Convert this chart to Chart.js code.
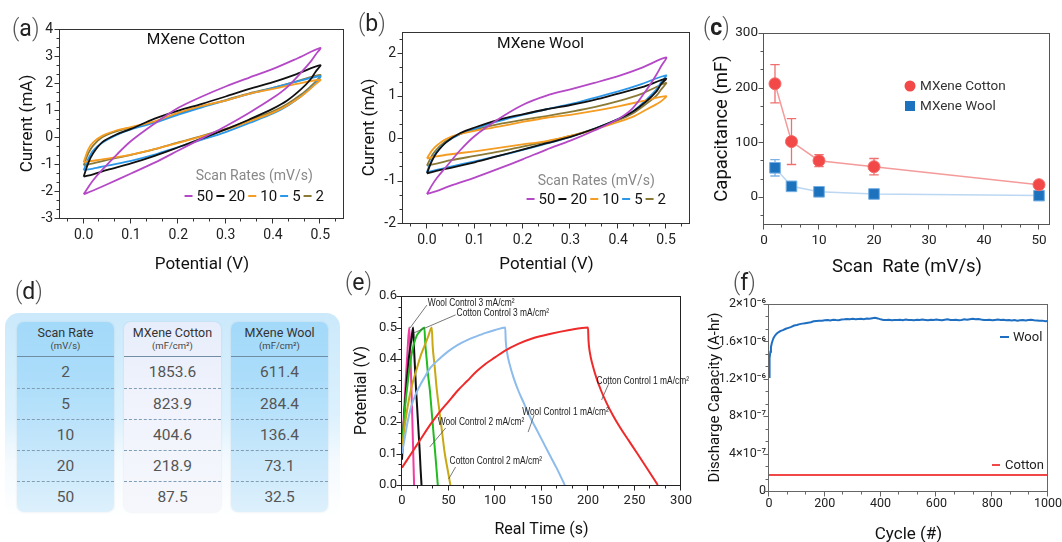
<!DOCTYPE html>
<html><head><meta charset="utf-8">
<script src="https://cdn.jsdelivr.net/npm/chart.js@4.4.1/dist/chart.umd.min.js"></script>
<style>
html,body{margin:0;padding:0;background:#fff;width:1062px;height:542px;overflow:hidden;position:relative;font-family:Roboto,'Liberation Sans',sans-serif;}
canvas{position:absolute;}
.plab{position:absolute;font-size:23px;line-height:23px;color:#222;white-space:nowrap;}
.plab .p{color:#555;font-weight:300;}
#tblwrap{position:absolute;left:5px;top:313px;width:335px;height:205px;border-radius:14px;background:linear-gradient(180deg,#cbe9fb 0%,#dcf1fd 50%,#f4fafe 72%,#ffffff 100%);}
.card{position:absolute;top:9px;width:97px;height:190px;border-radius:7px;overflow:hidden;box-shadow:0 0 2px rgba(110,150,180,0.25);}
.card.blue{background:linear-gradient(180deg,#a3d9f9 0%,#abddfa 30%,#c4e6fb 65%,#ddf0fc 100%);}
.card.white{background:linear-gradient(180deg,#e7edfb 0%,#f0f3fc 40%,#f5f7fc 100%);}
.hd{height:34px;border-bottom:1px solid #6f8da3;text-align:center;color:#333;}
.h1{font-size:12.5px;padding-top:3px;line-height:15px;}
.h2{font-size:9.5px;line-height:12px;color:#444;}
.row{height:30px;line-height:30px;text-align:center;font-size:15.5px;color:#555;border-top:1px dashed #7f9db3;}
.row:first-child{height:31px;line-height:31px;border-top:none;}
</style></head><body>

<canvas id="ca" style="left:0px;top:0px" width="345" height="275"></canvas>
<canvas id="cb" style="left:350px;top:0px" width="342" height="275"></canvas>
<canvas id="cc" style="left:692px;top:0px" width="370" height="278"></canvas>
<canvas id="ce" style="left:345px;top:278px" width="355" height="264"></canvas>
<canvas id="cf" style="left:692px;top:278px" width="380" height="270"></canvas>

<div id="tblwrap">
  <div class="card blue" style="left:12px"><div class="hd"><div class="h1">Scan Rate</div><div class="h2">(mV/s)</div></div><div id="col1"></div></div>
  <div class="card white" style="left:119px"><div class="hd"><div class="h1">MXene Cotton</div><div class="h2">(mF/cm²)</div></div><div id="col2"></div></div>
  <div class="card blue" style="left:226px"><div class="hd"><div class="h1">MXene Wool</div><div class="h2">(mF/cm²)</div></div><div id="col3"></div></div>
</div>

<div class="plab" style="left:12px;top:17px"><span class="p">(</span>a<span class="p">)</span></div>
<div class="plab" style="left:358px;top:12px"><span class="p">(</span>b<span class="p">)</span></div>
<div class="plab" style="left:703px;top:16px"><span class="p">(</span><b>c</b><span class="p">)</span></div>
<div class="plab" style="left:15px;top:280px"><span class="p">(</span>d<span class="p">)</span></div>
<div class="plab" style="left:345px;top:271px"><span class="p">(</span>e<span class="p">)</span></div>
<div class="plab" style="left:733px;top:271px"><span class="p">(</span>f<span class="p">)</span></div>

<script>
// ---------------- DATA ----------------
// (a),(b) cyclic voltammetry: forward and reverse potential grids (V)
const potForward = [0, 0.01, 0.02, 0.04, 0.07, 0.1, 0.15, 0.2, 0.25, 0.3, 0.35, 0.4, 0.45, 0.5];
const potReverse = [0.49, 0.48, 0.46, 0.43, 0.4, 0.35, 0.3, 0.25, 0.2, 0.15, 0.1, 0.05, 0.02, 0];
const scanRateLabels = ['50', '20', '10', '5', '2'];

// MXene Cotton currents (mA)
const cottonFwd50 = [-2.12,-1.85,-1.6,-1.2,-0.65,-0.15,0.5,1.08,1.5,1.87,2.2,2.52,2.9,3.3];
const cottonRev50 = [3.05,2.8,2.4,1.85,1.45,0.9,0.4,-0.05,-0.5,-0.95,-1.35,-1.75,-1.98,-2.12];
const cottonFwd20 = [-1.47,-0.95,-0.6,-0.18,0.1,0.3,0.68,0.98,1.23,1.5,1.78,2.03,2.33,2.66];
const cottonRev20 = [2.42,2.15,1.78,1.35,1.05,0.65,0.28,-0.05,-0.38,-0.7,-0.98,-1.22,-1.38,-1.47];
const cottonFwd10 = [-0.93,-0.45,-0.2,0.05,0.25,0.37,0.58,0.9,1.15,1.35,1.6,1.78,1.97,2.12];
const cottonRev10 = [1.96,1.8,1.51,1.17,0.9,0.58,0.27,0.02,-0.22,-0.45,-0.65,-0.8,-0.88,-0.93];
const cottonFwd5 = [-1.23,-0.8,-0.5,-0.2,0.08,0.28,0.53,0.83,1.1,1.35,1.6,1.82,2.05,2.25];
const cottonRev5 = [2.0,1.82,1.52,1.15,0.87,0.52,0.18,-0.1,-0.37,-0.65,-0.88,-1.06,-1.17,-1.23];
const cottonFwd2 = [-1.05,-0.6,-0.32,0.0,0.22,0.35,0.56,0.88,1.13,1.37,1.62,1.82,2.06,2.3];
const cottonRev2 = [2.05,1.88,1.58,1.22,0.95,0.62,0.3,0.04,-0.2,-0.45,-0.66,-0.85,-0.98,-1.05];

// MXene Wool currents (mA)
const woolFwd50 = [-1.32,-1.12,-0.95,-0.68,-0.28,0.05,0.45,0.78,1.0,1.15,1.3,1.46,1.66,1.9];
const woolRev50 = [1.7,1.5,1.15,0.7,0.45,0.18,-0.06,-0.27,-0.5,-0.72,-0.93,-1.12,-1.25,-1.32];
const woolFwd20 = [-0.83,-0.55,-0.35,-0.1,0.12,0.25,0.43,0.56,0.68,0.78,0.9,1.05,1.2,1.4];
const woolRev20 = [1.28,1.1,0.88,0.62,0.45,0.22,0.03,-0.12,-0.27,-0.42,-0.57,-0.7,-0.77,-0.83];
const woolFwd10 = [-0.48,-0.3,-0.18,-0.02,0.1,0.17,0.27,0.38,0.48,0.55,0.64,0.75,0.87,0.99];
const woolRev10 = [0.87,0.8,0.68,0.5,0.38,0.2,0.05,-0.07,-0.15,-0.23,-0.31,-0.38,-0.43,-0.48];
const woolFwd5 = [-0.8,-0.52,-0.33,-0.1,0.1,0.22,0.4,0.55,0.68,0.8,0.95,1.1,1.28,1.48];
const woolRev5 = [1.32,1.15,0.92,0.62,0.45,0.22,0.03,-0.13,-0.28,-0.42,-0.55,-0.67,-0.75,-0.8];
const woolFwd2 = [-0.65,-0.42,-0.27,-0.07,0.1,0.2,0.33,0.43,0.52,0.62,0.73,0.87,1.05,1.3];
const woolRev2 = [1.15,1.0,0.82,0.58,0.42,0.22,0.05,-0.08,-0.2,-0.32,-0.42,-0.52,-0.6,-0.65];

const cvPotTicks = [0, 0.1, 0.2, 0.3, 0.4, 0.5];
const cvCottonTicks = [-3, -2, -1, 0, 1, 2, 3, 4];
const cvWoolTicks = [-2, -1, 0, 1, 2];

// (c) capacitance vs scan rate
const capScanRates = [2, 5, 10, 20, 50];
const capCotton = [207, 101, 66, 55, 22];
const capCottonErr = [35, 42, 11, 15, 3];
const capWool = [53, 19, 9, 5, 2];
const capWoolErr = [15, 3, 2, 1, 1];
const capXTicks = [0, 10, 20, 30, 40, 50];
const capYTicks = [0, 100, 200, 300];

// (d) table
const tblScanRate = ['2', '5', '10', '20', '50'];
const tblCotton = ['1853.6', '823.9', '404.6', '218.9', '87.5'];
const tblWool = ['611.4', '284.4', '136.4', '73.1', '32.5'];

// (e) galvanostatic charge/discharge
const gcdWool3T = [0, 2, 4, 6, 7.8, 9, 10, 11, 12, 13];
const gcdWool3V = [0.12, 0.22, 0.33, 0.43, 0.5, 0.42, 0.32, 0.22, 0.11, 0];
const gcdCotton3T = [0, 2, 4, 6, 8, 10, 12, 13, 14, 15, 16, 17, 18, 19, 20, 21];
const gcdCotton3V = [0.08, 0.2, 0.29, 0.36, 0.42, 0.46, 0.5, 0.43, 0.37, 0.31, 0.26, 0.21, 0.16, 0.11, 0.05, 0];
const gcdWool2T = [0, 2, 4, 6, 8, 10, 13, 16, 20, 24, 25, 26.5, 28, 30, 32, 34, 36, 38.5];
const gcdWool2V = [0.12, 0.2, 0.27, 0.32, 0.37, 0.41, 0.45, 0.475, 0.49, 0.5, 0.45, 0.4, 0.35, 0.3, 0.23, 0.16, 0.09, 0];
const gcdCotton2T = [0, 4, 8, 12, 16, 20, 24, 28, 32, 33, 35, 37.5, 40, 43, 46, 49, 52];
const gcdCotton2V = [0.12, 0.21, 0.28, 0.33, 0.37, 0.41, 0.44, 0.47, 0.5, 0.44, 0.38, 0.3, 0.24, 0.17, 0.1, 0.05, 0];
const gcdWool1T = [0, 3, 6, 10, 15, 20, 25, 30, 40, 50, 60, 70, 80, 90, 100, 111, 111.5, 113, 116, 120, 125, 131, 137, 144, 151, 158, 166, 175];
const gcdWool1V = [0.1, 0.15, 0.2, 0.25, 0.29, 0.32, 0.345, 0.37, 0.4, 0.425, 0.445, 0.46, 0.472, 0.483, 0.492, 0.5, 0.46, 0.42, 0.38, 0.34, 0.3, 0.26, 0.22, 0.18, 0.14, 0.1, 0.055, 0];
const gcdCotton1T = [0, 10, 20, 30, 40, 50, 60, 70, 80, 90, 100, 110, 125, 140, 160, 180, 200, 200.5, 202, 205, 209, 214, 220, 227, 235, 244, 253, 263, 275];
const gcdCotton1V = [0.055, 0.1, 0.145, 0.19, 0.23, 0.265, 0.3, 0.33, 0.36, 0.385, 0.405, 0.425, 0.448, 0.465, 0.48, 0.492, 0.5, 0.46, 0.42, 0.38, 0.34, 0.3, 0.26, 0.22, 0.18, 0.14, 0.1, 0.055, 0];
const gcdLabels = ['Wool Control 3 mA/cm²', 'Cotton Control 3 mA/cm²', 'Wool Control 2 mA/cm²', 'Cotton Control 2 mA/cm²', 'Wool Control 1 mA/cm²', 'Cotton Control 1 mA/cm²'];
const gcdXTicks = [0, 50, 100, 150, 200, 250, 300];
const gcdYTicks = [0, 0.1, 0.2, 0.3, 0.4, 0.5, 0.6];

// (f) cycling, discharge capacity in units of 1e-6 A-hr
const cycWoolN = [0,1,2,3,5,7,10,13,16,20,25,30,35,40,50,60,70,80,90,100,110,120,130,140,150,160,170,180,190,200,210,220,230,240,250,260,270,280,290,300,310,320,330,340,350,360,370,380,390,400,410,420,430,440,450,460,470,480,490,500,510,520,530,540,550,560,570,580,590,600,610,620,630,640,650,660,670,680,690,700,710,720,730,740,750,760,770,780,790,800,810,820,830,840,850,860,870,880,890,900,910,920,930,940,950,960,970,980,990,1000];
const cycWoolCap = [1.22,1.30,1.37,1.42,1.49,1.54,1.58,1.61,1.635,1.655,1.675,1.69,1.70,1.71,1.72,1.735,1.745,1.755,1.77,1.775,1.785,1.79,1.795,1.80,1.805,1.815,1.818,1.82,1.822,1.826,1.83,1.824,1.832,1.828,1.826,1.834,1.836,1.84,1.838,1.842,1.838,1.84,1.842,1.838,1.845,1.842,1.848,1.852,1.846,1.836,1.83,1.828,1.832,1.826,1.83,1.828,1.832,1.826,1.834,1.828,1.83,1.826,1.832,1.828,1.834,1.83,1.826,1.832,1.828,1.834,1.83,1.826,1.832,1.836,1.83,1.828,1.832,1.826,1.83,1.836,1.832,1.838,1.842,1.836,1.84,1.834,1.83,1.828,1.832,1.826,1.83,1.834,1.828,1.832,1.826,1.83,1.824,1.828,1.822,1.826,1.83,1.824,1.828,1.832,1.826,1.824,1.82,1.822,1.816,1.818];
const cycCottonN = [0, 250, 500, 750, 1000];
const cycCottonCap = [0.17, 0.17, 0.17, 0.17, 0.17];
const cycXTicks = [0, 200, 400, 600, 800, 1000];
const cycYTicks = [0, 0.4, 0.8, 1.2, 1.6, 2.0];
const cycYTickLabels = ['0', '4×10⁻⁷', '8×10⁻⁷', '1.2×10⁻⁶', '1.6×10⁻⁶', '2×10⁻⁶'];

// ---------------- HELPERS ----------------
Chart.defaults.font.family = "Roboto, 'Liberation Sans', sans-serif";
Chart.defaults.color = '#222';

function linAxis(o) {
  return {
    type: 'linear', min: o.min, max: o.max, position: o.pos,
    afterBuildTicks: s => { s.ticks = o.ticks.map(v => ({value: v})); },
    afterFit: s => { if (o.pos === 'left') s.width = o.size; else s.height = o.size; },
    grid: {display: false, drawTicks: false},
    border: {display: false},
    ticks: {autoSkip: false, maxRotation: 0, padding: o.pad, color: '#222', font: {size: o.tickSize}, callback: o.fmt},
    title: {display: true, text: o.title, color: '#111', padding: 0, font: {size: o.titleSize}}
  };
}

function tickMarks(scale, div) {
  const maj = scale.ticks.map(t => t.value);
  const step = (maj[1] - maj[0]) / div;
  const out = [];
  let v = maj[0];
  while (v - step >= scale.min - 1e-9) v -= step;
  for (; v <= scale.max + 1e-9; v += step) {
    out.push({v, major: maj.some(m => Math.abs(m - v) < step * 0.05)});
  }
  return out;
}

const frameTicks = {
  id: 'frameTicks',
  afterDatasetsDraw(chart, args, o) {
    const {ctx, chartArea: a} = chart;
    const xs = chart.scales.x, ys = chart.scales.y;
    ctx.save();
    ctx.strokeStyle = o.color; ctx.lineWidth = 1;
    const L = Math.round(a.left) - 0.5, R = Math.round(a.right) - 0.5, T = Math.round(a.top) + 0.5, B = Math.round(a.bottom) + 0.5;
    ctx.strokeRect(L, T, R - L, B - T);
    ctx.beginPath();
    tickMarks(xs, 3).forEach(t => {
      const px = Math.round(xs.getPixelForValue(t.v)) - 0.5;
      ctx.moveTo(px, B); ctx.lineTo(px, B + (t.major ? 5 : 3));
    });
    tickMarks(ys, 3).forEach(t => {
      const py = Math.round(ys.getPixelForValue(t.v)) + 0.5;
      ctx.moveTo(L, py); ctx.lineTo(L - (t.major ? 5 : 3), py);
    });
    ctx.stroke();
    ctx.restore();
  }
};

const cvDecor = {
  id: 'cvDecor',
  afterDraw(chart, args, o) {
    const {ctx, chartArea: a} = chart;
    ctx.save();
    ctx.textBaseline = 'middle';
    ctx.fillStyle = '#111'; ctx.font = "15.5px Roboto"; ctx.textAlign = 'center';
    ctx.fillText(o.title, (a.left + a.right) / 2 + o.titleDx, a.top + o.titleDy);
    ctx.font = "15px Roboto";
    const ds = chart.data.datasets;
    const seg = 8, g1 = 4, g2 = 3;
    const widths = ds.map(d => ctx.measureText(d.label).width);
    const total = widths.reduce((s, w) => s + seg + g1 + w + g2, 0) - g2;
    let x = a.right - o.legRight - total;
    const y = a.bottom - o.legBottom;
    ds.forEach((d, i) => {
      ctx.strokeStyle = d.borderColor; ctx.lineWidth = 2;
      ctx.beginPath(); ctx.moveTo(x, y); ctx.lineTo(x + seg, y); ctx.stroke();
      x += seg + g1;
      ctx.textAlign = 'left'; ctx.fillStyle = '#111';
      ctx.fillText(d.label, x, y + 1);
      x += widths[i] + g2;
    });
    ctx.font = "14px Roboto"; ctx.fillStyle = '#888'; ctx.textAlign = 'center';
    ctx.fillText(o.legTitle, a.right - o.legRight - total / 2, y - o.legTitleGap);
    ctx.restore();
  }
};

const errDecor = {
  id: 'errDecor',
  beforeDatasetsDraw(chart, args, o) {
    const {ctx} = chart; const xs = chart.scales.x, ys = chart.scales.y;
    ctx.save();
    chart.data.datasets.forEach((d, i) => {
      const err = o.errors[i];
      ctx.strokeStyle = o.colors[i]; ctx.lineWidth = 1.3;
      ctx.beginPath();
      d.data.forEach((p, j) => {
        const x = xs.getPixelForValue(p.x);
        const y1 = ys.getPixelForValue(p.y + err[j]), y2 = ys.getPixelForValue(p.y - err[j]);
        ctx.moveTo(x, y1); ctx.lineTo(x, y2);
        ctx.moveTo(x - o.cap, y1); ctx.lineTo(x + o.cap, y1);
        ctx.moveTo(x - o.cap, y2); ctx.lineTo(x + o.cap, y2);
      });
      ctx.stroke();
    });
    ctx.restore();
  },
  afterDraw(chart, args, o) {
    const {ctx, chartArea: a} = chart;
    ctx.save();
    ctx.textBaseline = 'middle'; ctx.textAlign = 'left';
    ctx.font = "13.5px Roboto"; ctx.fillStyle = '#333';
    chart.data.datasets.forEach((d, i) => {
      const cx = a.left + o.legX, cy = a.top + o.legY[i];
      ctx.fillStyle = d.pointBackgroundColor;
      if (d.pointStyle === 'circle') { ctx.beginPath(); ctx.arc(cx, cy, 5.5, 0, Math.PI * 2); ctx.fill(); }
      else { ctx.fillRect(cx - 5, cy - 5, 10, 10); }
      ctx.fillStyle = '#333';
      ctx.fillText(d.label, cx + 10, cy + 1);
    });
    ctx.restore();
  }
};

const annotDecor = {
  id: 'annotDecor',
  afterDatasetsDraw(chart, args, o) {
    const {ctx} = chart; const xs = chart.scales.x, ys = chart.scales.y;
    ctx.save();
    ctx.strokeStyle = '#555'; ctx.lineWidth = 0.8;
    o.items.forEach(it => {
      ctx.beginPath();
      ctx.moveTo(xs.getPixelForValue(it.from[0]), ys.getPixelForValue(it.from[1]));
      ctx.lineTo(xs.getPixelForValue(it.to[0]), ys.getPixelForValue(it.to[1]));
      ctx.stroke();
      const tx = xs.getPixelForValue(it.at[0]), ty = ys.getPixelForValue(it.at[1]);
      ctx.save();
      ctx.translate(tx, ty); ctx.scale(0.8, 1);
      ctx.font = "10.5px 'Liberation Sans', Arial, sans-serif"; ctx.fillStyle = '#222';
      ctx.textBaseline = 'middle'; ctx.textAlign = 'left';
      ctx.fillText(it.text, 0, 0);
      ctx.restore();
    });
    ctx.restore();
  }
};

const lineLegend = {
  id: 'lineLegend',
  afterDraw(chart, args, o) {
    const {ctx, chartArea: a} = chart;
    ctx.save();
    ctx.font = "13px Roboto"; ctx.textBaseline = 'middle'; ctx.textAlign = 'left';
    chart.data.datasets.forEach((d, i) => {
      const it = o.items[i];
      const y = a.top + it.dy;
      ctx.strokeStyle = d.borderColor; ctx.lineWidth = 2;
      ctx.beginPath(); ctx.moveTo(a.right + it.x0, y); ctx.lineTo(a.right + it.x1, y); ctx.stroke();
      ctx.fillStyle = '#222';
      ctx.fillText(d.label, a.right + it.tx, y + 1);
    });
    ctx.restore();
  }
};

function loop(fwd, rev) {
  return potForward.map((p, i) => ({x: p, y: fwd[i]})).concat(potReverse.map((p, i) => ({x: p, y: rev[i]})));
}
function pts(xs, ys) { return xs.map((x, i) => ({x, y: ys[i]})); }

const cvColors = ['#B548C6', '#111111', '#F59C22', '#2B97E8', '#8A7A36'];
function cvSets(pairs) {
  return pairs.map((p, i) => ({
    label: scanRateLabels[i], data: loop(p[0], p[1]), showLine: true,
    borderColor: cvColors[i], borderWidth: 1.8, pointRadius: 0, tension: 0.3, fill: false
  }));
}

const baseOpts = {responsive: false, animation: false, devicePixelRatio: 1, events: []};

// ---------------- (a) ----------------
new Chart(document.getElementById('ca'), {
  type: 'scatter',
  data: {datasets: cvSets([[cottonFwd50, cottonRev50], [cottonFwd20, cottonRev20], [cottonFwd10, cottonRev10], [cottonFwd5, cottonRev5], [cottonFwd2, cottonRev2]])},
  options: Object.assign({}, baseOpts, {
    layout: {padding: {left: 18, right: 1, top: 29, bottom: 0}},
    plugins: {legend: {display: false}, tooltip: {enabled: false},
      frameTicks: {color: '#333'},
      cvDecor: {title: 'MXene Cotton', titleDx: -6, titleDy: 11, legTitle: 'Scan Rates (mV/s)', legRight: 20, legBottom: 22, legTitleGap: 20}},
    scales: {
      x: linAxis({pos: 'bottom', min: -0.05, max: 0.55, ticks: cvPotTicks, size: 57, pad: 9, tickSize: 14, fmt: v => v.toFixed(1), title: 'Potential (V)', titleSize: 17}),
      y: linAxis({pos: 'left', min: -3, max: 4, ticks: cvCottonTicks, size: 42, pad: 7, tickSize: 14, fmt: v => String(v), title: 'Current (mA)', titleSize: 17})
    }
  }),
  plugins: [frameTicks, cvDecor]
});

// ---------------- (b) ----------------
new Chart(document.getElementById('cb'), {
  type: 'scatter',
  data: {datasets: cvSets([[woolFwd50, woolRev50], [woolFwd20, woolRev20], [woolFwd10, woolRev10], [woolFwd5, woolRev5], [woolFwd2, woolRev2]])},
  options: Object.assign({}, baseOpts, {
    layout: {padding: {left: 10, right: 2, top: 32, bottom: 0}},
    plugins: {legend: {display: false}, tooltip: {enabled: false},
      frameTicks: {color: '#333'},
      cvDecor: {title: 'MXene Wool', titleDx: -6, titleDy: 12, legTitle: 'Scan Rates (mV/s)', legRight: 24, legBottom: 24, legTitleGap: 18}},
    scales: {
      x: linAxis({pos: 'bottom', min: -0.05, max: 0.55, ticks: cvPotTicks, size: 52, pad: 9, tickSize: 14, fmt: v => v.toFixed(1), title: 'Potential (V)', titleSize: 17}),
      y: linAxis({pos: 'left', min: -2, max: 2.5, ticks: cvWoolTicks, size: 43, pad: 7, tickSize: 14, fmt: v => String(v), title: 'Current (mA)', titleSize: 17})
    }
  }),
  plugins: [frameTicks, cvDecor]
});

// ---------------- (c) ----------------
new Chart(document.getElementById('cc'), {
  type: 'scatter',
  data: {datasets: [
    {label: 'MXene Cotton', data: pts(capScanRates, capCotton), showLine: true, borderColor: '#F59A9A', borderWidth: 1.5,
     pointStyle: 'circle', pointRadius: 6, pointBackgroundColor: '#F24848', pointBorderColor: '#F46A6A', pointBorderWidth: 1, tension: 0},
    {label: 'MXene Wool', data: pts(capScanRates, capWool), showLine: true, borderColor: '#BCD7F2', borderWidth: 1.5,
     pointStyle: 'rect', pointRadius: 7.5, pointBackgroundColor: '#1C72BC', pointBorderColor: '#74AEE3', pointBorderWidth: 1, tension: 0}
  ]},
  options: Object.assign({}, baseOpts, {
    layout: {padding: {left: 19, right: 12, top: 33, bottom: 0}},
    plugins: {legend: {display: false}, tooltip: {enabled: false},
      frameTicks: {color: '#555'},
      errDecor: {errors: [capCottonErr, capWoolErr], colors: ['#EE7070', '#7DB2E6'], cap: 4.7, legX: 146, legY: [53, 73]}},
    scales: {
      x: linAxis({pos: 'bottom', min: 0, max: 52, ticks: capXTicks, size: 54, pad: 9, tickSize: 13.5, fmt: v => String(v), title: 'Scan  Rate (mV/s)', titleSize: 18.5}),
      y: linAxis({pos: 'left', min: -50, max: 300, ticks: capYTicks, size: 53, pad: 6, tickSize: 13.5, fmt: v => String(v), title: 'Capacitance (mF)', titleSize: 18.5})
    }
  }),
  plugins: [frameTicks, errDecor]
});

// ---------------- (e) ----------------
const gcdColors = ['#F23CA2', '#111111', '#22BB22', '#C9A815', '#8DBCEC', '#EE2A2A'];
const gcdSeries = [[gcdWool3T, gcdWool3V], [gcdCotton3T, gcdCotton3V], [gcdWool2T, gcdWool2V], [gcdCotton2T, gcdCotton2V], [gcdWool1T, gcdWool1V], [gcdCotton1T, gcdCotton1V]];
const gcdSets = gcdSeries.map((s, i) => ({
  label: gcdLabels[i], data: pts(s[0], s[1]), showLine: true, borderColor: gcdColors[i], borderWidth: 2,
  pointRadius: 0, cubicInterpolationMode: 'monotone', fill: false
})).reverse();
const gcdAnnot = [
  {text: gcdLabels[0], at: [27.8, 0.578], from: [26.7, 0.571], to: [8.5, 0.498]},
  {text: gcdLabels[1], at: [58.7, 0.546], from: [57.6, 0.54], to: [12.8, 0.483]},
  {text: gcdLabels[2], at: [38.4, 0.2], from: [47, 0.181], to: [29.9, 0.121]},
  {text: gcdLabels[3], at: [51.2, 0.076], from: [57.6, 0.057], to: [50.2, 0.019]},
  {text: gcdLabels[4], at: [129.2, 0.232], from: [142, 0.222], to: [135.6, 0.168]},
  {text: gcdLabels[5], at: [209.2, 0.33], from: [222, 0.32], to: [214.6, 0.27]}
];
new Chart(document.getElementById('ce'), {
  type: 'scatter',
  data: {datasets: gcdSets},
  options: Object.assign({}, baseOpts, {
    layout: {padding: {left: 7, right: 17, top: 18, bottom: 2}},
    plugins: {legend: {display: false}, tooltip: {enabled: false},
      frameTicks: {color: '#222'},
      annotDecor: {items: gcdAnnot}},
    scales: {
      x: linAxis({pos: 'bottom', min: 0, max: 300, ticks: gcdXTicks, size: 55, pad: 8, tickSize: 13, fmt: v => String(v), title: 'Real Time (s)', titleSize: 16}),
      y: linAxis({pos: 'left', min: 0, max: 0.6, ticks: gcdYTicks, size: 50, pad: 5, tickSize: 13, fmt: v => v.toFixed(1), title: 'Potential (V)', titleSize: 16})
    }
  }),
  plugins: [frameTicks, annotDecor]
});

// ---------------- (f) ----------------
new Chart(document.getElementById('cf'), {
  type: 'scatter',
  data: {datasets: [
    {label: 'Wool', data: pts(cycWoolN, cycWoolCap), showLine: true, borderColor: '#1E6EC2', borderWidth: 2, pointRadius: 0, tension: 0, fill: false},
    {label: 'Cotton', data: pts(cycCottonN, cycCottonCap), showLine: true, borderColor: '#F04848', borderWidth: 2, pointRadius: 0, tension: 0, fill: false}
  ]},
  options: Object.assign({}, baseOpts, {
    layout: {padding: {left: 14, right: 24, top: 26, bottom: 3}},
    plugins: {legend: {display: false}, tooltip: {enabled: false},
      frameTicks: {color: '#666'},
      lineLegend: {items: [{dy: 33, x0: -48, x1: -39, tx: -35}, {dy: 161, x0: -56, x1: -48, tx: -43}]}},
    scales: {
      x: linAxis({pos: 'bottom', min: 0, max: 1000, ticks: cycXTicks, size: 54, pad: 5, tickSize: 12.5, fmt: v => String(v), title: 'Cycle (#)', titleSize: 17}),
      y: linAxis({pos: 'left', min: 0, max: 2.0, ticks: cycYTicks, size: 63, pad: 3, tickSize: 12.5, fmt: (v, i) => cycYTickLabels[i], title: 'Discharge Capacity (A-hr)', titleSize: 15})
    }
  }),
  plugins: [frameTicks, lineLegend]
});

// ---------------- (d) table ----------------
function fillCol(id, vals) {
  document.getElementById(id).innerHTML = vals.map(v => '<div class="row">' + v + '</div>').join('');
}
fillCol('col1', tblScanRate);
fillCol('col2', tblCotton);
fillCol('col3', tblWool);
</script>
</body></html>
